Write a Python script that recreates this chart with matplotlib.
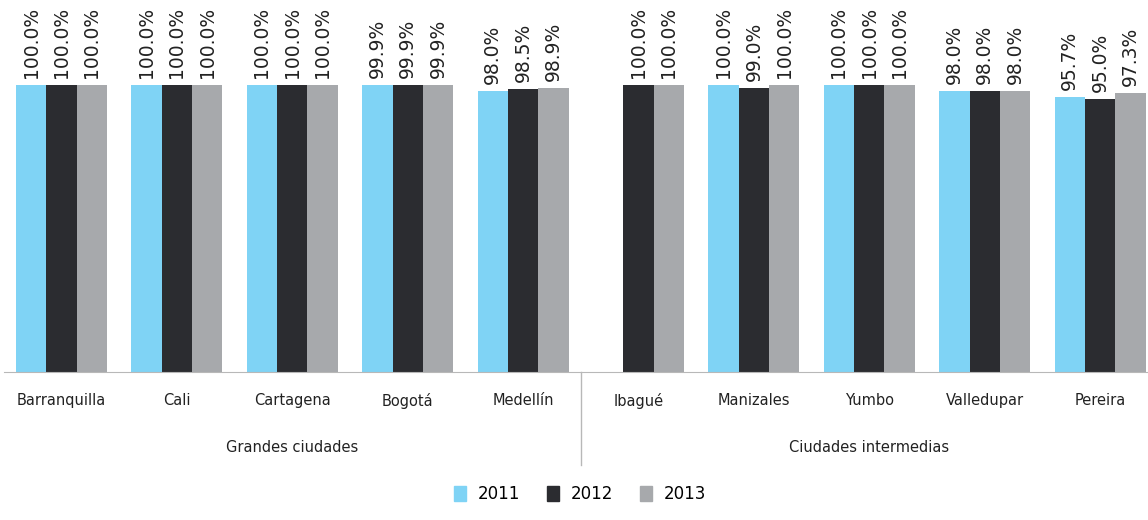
import numpy as np
import matplotlib
matplotlib.use("Agg")
import matplotlib.pyplot as plt
from matplotlib.patches import Patch
import matplotlib.transforms as mtransforms

cities = ["Barranquilla", "Cali", "Cartagena", "Bogotá", "Medellín",
          "Ibagué", "Manizales", "Yumbo", "Valledupar", "Pereira"]
groups = ["Grandes ciudades", "Ciudades intermedias"]
years = ["2011", "2012", "2013"]
v2011 = [100.0, 100.0, 100.0, 99.9, 98.0, np.nan, 100.0, 100.0, 98.0, 95.7]
v2012 = [100.0, 100.0, 100.0, 99.9, 98.5, 100.0, 99.0, 100.0, 98.0, 95.0]
v2013 = [100.0, 100.0, 100.0, 99.9, 98.9, 100.0, 100.0, 100.0, 98.0, 97.3]
colors = ["#7fd3f5", "#2b2c30", "#a7a9ac"]

fig = plt.figure(figsize=(11.48, 5.2), dpi=100)
ax = fig.add_axes([3.8 / 1148, 148 / 520, 1154 / 1148, 372 / 520])

x = np.arange(len(cities))
w = 0.263
for i, (vals, c) in enumerate(zip([v2011, v2012, v2013], colors)):
    xs = x + (i - 1) * w
    ax.bar(xs, vals, width=w, color=c, edgecolor="none")
    for xi, v in zip(xs, vals):
        if np.isnan(v):
            continue
        ax.annotate(f"{v:.1f}%", (xi, v), xytext=(0, 5), textcoords="offset points",
                    rotation=90, ha="center", va="bottom", fontsize=13.5,
                    color="#222222")

ax.set_xlim(-0.5, len(cities) - 0.5)
ax.set_ylim(0, 372 / 287 * 100)
for s in ["top", "right", "left"]:
    ax.spines[s].set_visible(False)
ax.spines["bottom"].set_color("#b8b8b8")
ax.set_yticks([])
ax.set_xticks(x)
ax.set_xticklabels(cities, fontsize=10.5, color="#222222")
ax.tick_params(axis="x", length=0, pad=15)

trans = mtransforms.blended_transform_factory(ax.transData, ax.transAxes)
ax.plot([4.5, 4.5], [0, -0.25], transform=trans, clip_on=False,
        color="#b8b8b8", lw=1)
ax.text(2, -0.204, groups[0], transform=trans, ha="center", va="center",
        fontsize=10.5, color="#222222")
ax.text(7, -0.204, groups[1], transform=trans, ha="center", va="center",
        fontsize=10.5, color="#222222")

handles = [Patch(color=c, label=y) for c, y in zip(colors, years)]
fig.legend(handles=handles, loc="center", bbox_to_anchor=(580 / 1148, 1 - 494 / 520),
           ncol=3, frameon=False, handlelength=0.75, handleheight=1.0,
           handletextpad=0.7, columnspacing=1.6,
           prop={"size": 12})

fig.savefig("out.png", dpi=100)
